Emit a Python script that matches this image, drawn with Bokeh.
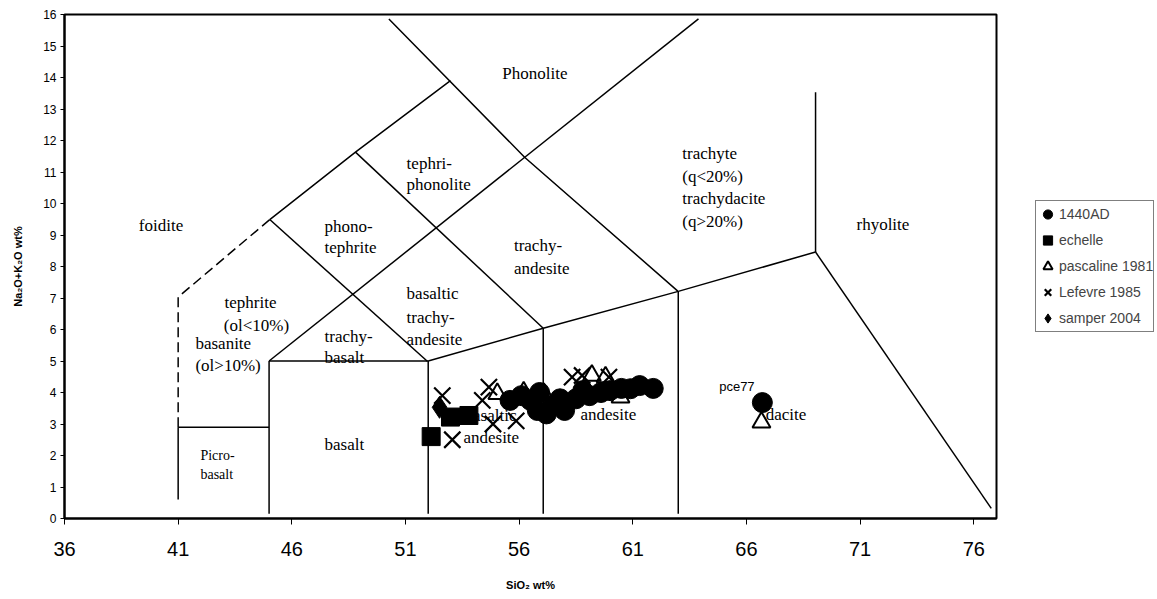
from bokeh.plotting import figure
from bokeh.models import Range1d, FixedTicker, Legend, LegendItem
from bokeh.layouts import row
from bokeh.core.properties import value
from bokeh.embed import file_html
from bokeh.resources import INLINE

# ---- sample data (SiO2 wt%, Na2O+K2O wt%) ----
ad1440_x = [55.6, 56.1, 56.5, 56.8, 56.9, 57.2, 57.5, 57.8, 58.0, 58.5, 58.8, 59.1, 59.6, 60.0, 60.5, 60.9, 61.3, 61.9, 66.7]
ad1440_y = [3.75, 3.9, 3.75, 3.43, 4.0, 3.32, 3.6, 3.8, 3.43, 3.8, 4.06, 3.9, 4.0, 4.06, 4.13, 4.12, 4.22, 4.13, 3.68]
echelle_x = [52.13, 52.98, 53.79]
echelle_y = [2.60, 3.22, 3.27]
pascaline_x = [55.04, 56.2, 57.09, 59.2, 59.8, 60.46, 66.66]
pascaline_y = [3.96, 4.01, 3.96, 4.54, 4.49, 3.85, 3.05]
lefevre_x = [52.62, 53.06, 54.38, 54.67, 54.85, 55.87, 58.33, 58.77, 59.95]
lefevre_y = [3.9, 2.5, 3.75, 4.17, 3.0, 3.1, 4.49, 4.54, 4.49]
samper_x = [52.5]
samper_y = [3.53]

series_names = ["1440AD", "echelle", "pascaline 1981", "Lefevre 1985", "samper 2004"]

# ---- TAS field boundaries ----
solid_xs = [
    [41.0, 41.0], [41.0, 45.0], [45.0, 45.0], [45.0, 52.0], [52.0, 52.0],
    [52.0, 57.06, 63.0, 69.04], [57.06, 57.06], [63.0, 63.0], [69.04, 69.04],
    [69.04, 76.77], [45.0, 63.89], [50.27, 56.24, 62.98], [45.03, 48.8, 52.98],
    [48.8, 57.06], [45.03, 51.96],
]
solid_ys = [
    [0.6, 2.9], [2.9, 2.9], [0.15, 5.0], [5.0, 5.0], [0.15, 5.0],
    [5.0, 6.04, 7.21, 8.46], [0.15, 6.04], [0.15, 7.21], [8.46, 13.53],
    [8.46, 0.32], [5.0, 15.86], [15.86, 11.47, 7.22], [9.49, 11.63, 13.9],
    [11.63, 6.04], [9.49, 4.99],
]
dashed_x = [41.0, 41.0, 45.03]
dashed_y = [2.9, 7.03, 9.49]

# ---- field names (one entry per text line) ----
field_text = ["foidite", "tephrite", "(ol<10%)", "basanite", "(ol>10%)",
              "phono-", "tephrite", "tephri-", "phonolite", "Phonolite",
              "trachy-", "basalt", "basaltic", "trachy-", "andesite",
              "trachy-", "andesite", "trachyte", "(q<20%)", "trachydacite", "(q>20%)",
              "rhyolite", "basalt", "basaltic", "andesite", "andesite", "dacite"]
field_x = [39.27, 43.04, 43.01, 41.76, 41.76,
           47.44, 47.44, 51.05, 51.05, 55.26,
           47.44, 47.44, 51.05, 51.05, 51.05,
           55.77, 55.77, 63.18, 63.18, 63.18, 63.18,
           70.84, 47.44, 53.6, 53.55, 58.7, 66.85]
field_y = [9.30, 6.87, 6.13, 5.57, 4.86,
           9.27, 8.61, 11.28, 10.59, 14.14,
           5.78, 5.10, 7.13, 6.39, 5.67,
           8.67, 7.93, 11.6, 10.86, 10.15, 9.44,
           9.33, 2.34, 3.27, 2.57, 3.3, 3.3]
small_text = ["Picro-", "basalt"]
small_x = [41.98, 41.98]
small_y = [2.0, 1.40]
sample_text = ["pce77"]
sample_x = [64.8]
sample_y = [4.2]

x_ticks = [36, 41, 46, 51, 56, 61, 66, 71, 76]
y_ticks = list(range(0, 17))

p = figure(width=998, height=599, output_backend="svg", toolbar_location=None,
           x_range=Range1d(36, 77), y_range=Range1d(0, 16),
           min_border_left=64, min_border_right=2, min_border_top=14, min_border_bottom=81)
p.grid.visible = False
p.outline_line_color = "black"
p.outline_line_width = 2
p.background_fill_color = "white"
p.border_fill_color = "white"

p.xaxis.ticker = FixedTicker(ticks=x_ticks)
p.yaxis.ticker = FixedTicker(ticks=y_ticks)
for ax in (p.xaxis[0], p.yaxis[0]):
    ax.axis_line_color = "black"
    ax.axis_line_width = 2
    ax.major_tick_line_color = "black"
    ax.major_tick_in = 0
    ax.minor_tick_line_color = None
    ax.major_label_text_font = "Liberation Sans"
    ax.major_label_text_color = "black"
    ax.axis_label_text_font = "Liberation Sans"
    ax.axis_label_text_font_style = "bold"
    ax.axis_label_text_font_size = "11px"
    ax.axis_label_text_color = "black"
p.xaxis.major_tick_out = 6
p.xaxis.major_label_text_font_size = "20px"
p.xaxis.major_label_standoff = 17
p.xaxis.axis_label = "SiO\u2082 wt%"
p.xaxis.axis_label_standoff = 20
p.yaxis.major_tick_out = 4
p.yaxis.major_label_text_font_size = "12px"
p.yaxis.major_label_standoff = 4
p.yaxis.axis_label = "Na\u2082O+K\u2082O wt%"
p.yaxis.axis_label_standoff = 16

p.multi_line(xs=solid_xs, ys=solid_ys, line_color="black", line_width=1.5)
p.line(dashed_x, dashed_y, line_color="black", line_width=1.5, line_dash="10 5")

p.text(x=field_x, y=field_y, text=field_text, text_font=value("Liberation Serif"),
       text_font_size="17px", text_color="black", text_align="left", text_baseline="alphabetic")
p.text(x=small_x, y=small_y, text=small_text, text_font=value("Liberation Serif"),
       text_font_size="14px", text_color="black", text_align="left", text_baseline="alphabetic")
p.text(x=sample_x, y=sample_y, text=sample_text, text_font=value("Liberation Sans"),
       text_font_size="13px", text_color="black", text_align="left", text_baseline="alphabetic")

styles = [
    dict(marker="circle", fill_color="black", line_color="black"),
    dict(marker="square", fill_color="black", line_color="black"),
    dict(marker="triangle", fill_color="white", fill_alpha=0, line_color="black", line_width=2),
    dict(marker="x", line_color="black", line_width=2.2),
    dict(marker="diamond", fill_color="black", line_color="black"),
]
sizes = [20, 18, 18, 23, 22]
xs_all = [ad1440_x, echelle_x, pascaline_x, lefevre_x, samper_x]
ys_all = [ad1440_y, echelle_y, pascaline_y, lefevre_y, samper_y]
# draw later series first so that 1440AD sits on top
for i in [4, 3, 2, 1, 0]:
    p.scatter(xs_all[i], ys_all[i], size=sizes[i], **styles[i])

# ---- legend panel: a second figure beside the plot, same top/bottom borders ----
lg = figure(width=159, height=599, output_backend="svg", toolbar_location=None,
            x_range=Range1d(0, 1), y_range=Range1d(0, 1),
            x_axis_type=None, y_axis_type=None,
            min_border_left=37, min_border_right=0, min_border_top=14, min_border_bottom=81)
lg.grid.visible = False
lg.outline_line_color = None
lg.background_fill_color = "white"
lg.border_fill_color = "white"
items = []
for i, name in enumerate(series_names):
    # same series, outside this panel's view range: only the legend swatch shows
    r = lg.scatter(xs_all[i], ys_all[i], **styles[i])
    items.append(LegendItem(label=name, renderers=[r]))
legend = Legend(items=items, location=(0, 186), glyph_width=23, glyph_height=26, label_height=26,
                spacing=0, padding=0, label_standoff=0, margin=0,
                label_text_font="Liberation Sans", label_text_font_size="14px",
                border_line_color="black", border_line_width=1, background_fill_color="white")
lg.add_layout(legend, "center")

layout = row(p, lg, spacing=0)
open("out.html", "w").write(file_html(layout, INLINE))
